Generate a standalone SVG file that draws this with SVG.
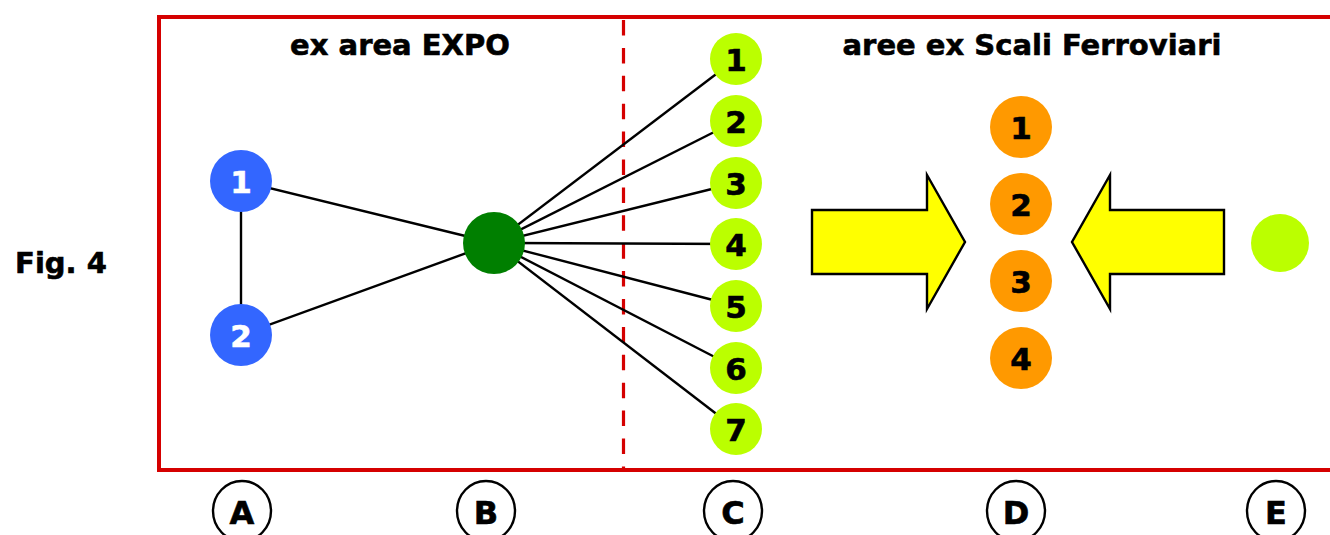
<svg xmlns="http://www.w3.org/2000/svg" width="1330" height="535" viewBox="0 0 1330 535">
  <style>
    text { font-family: "DejaVu Sans", Verdana, sans-serif; font-weight: bold; text-anchor: middle; }
    .title { font-size: 29px; fill: #000; stroke: #000; stroke-width: 0.6; }
    .num { font-size: 31px; fill: #000; stroke: #000; stroke-width: 0.6; }
    .numw { font-size: 31px; fill: #fff; stroke: #fff; stroke-width: 0.6; }
    .letter { font-size: 32px; fill: #000; stroke: #000; stroke-width: 0.6; }
    .edge { stroke: #000; stroke-width: 2.4; fill: none; }
    .blue { fill: #3366ff; }
    .lime { fill: #bbff00; }
    .orange { fill: #ff9900; }
    .arrow { fill: #ffff00; stroke: #000; stroke-width: 2.4; stroke-linejoin: miter; }
    .tag { fill: none; stroke: #000; stroke-width: 2.4; }
  </style>

  <rect width="1330" height="535" fill="#ffffff"/>

  <!-- frame and divider -->
  <rect x="159" y="17" width="1190" height="453" fill="none" stroke="#d50000" stroke-width="4"/>
  <line x1="623.5" y1="20" x2="623.5" y2="470" stroke="#d50000" stroke-width="3.2" stroke-dasharray="15.5 12.4"/>

  <text class="title" x="400" y="55">ex area EXPO</text>
  <text class="title" x="1032" y="55">aree ex Scali Ferroviari</text>
  <text class="title" x="61" y="273">Fig. 4</text>

  <!-- connectors -->
  <g id="connectors">
    <line class="edge" x1="241" y1="181" x2="241" y2="335"/>
    <line class="edge" x1="241" y1="181" x2="494" y2="243"/>
    <line class="edge" x1="241" y1="335" x2="494" y2="243"/>
    <line class="edge" x1="494" y1="243" x2="736" y2="59"/>
    <line class="edge" x1="494" y1="243" x2="736" y2="121"/>
    <line class="edge" x1="494" y1="243" x2="736" y2="183"/>
    <line class="edge" x1="494" y1="243" x2="736" y2="244"/>
    <line class="edge" x1="494" y1="243" x2="736" y2="306"/>
    <line class="edge" x1="494" y1="243" x2="736" y2="368"/>
    <line class="edge" x1="494" y1="243" x2="736" y2="429"/>
  </g>

  <!-- column A -->
  <g id="a1"><circle class="blue" cx="241" cy="181" r="31"/><text class="numw" x="241" y="193">1</text></g>
  <g id="a2"><circle class="blue" cx="241" cy="335" r="31"/><text class="numw" x="241" y="347">2</text></g>

  <!-- column B -->
  <g id="b"><circle cx="494" cy="243" r="31" fill="#007f00"/></g>

  <!-- column C -->
  <g id="c1"><circle class="lime" cx="736" cy="59" r="26"/><text class="num" x="736" y="71">1</text></g>
  <g id="c2"><circle class="lime" cx="736" cy="121" r="26"/><text class="num" x="736" y="133">2</text></g>
  <g id="c3"><circle class="lime" cx="736" cy="183" r="26"/><text class="num" x="736" y="195">3</text></g>
  <g id="c4"><circle class="lime" cx="736" cy="244" r="26"/><text class="num" x="736" y="256">4</text></g>
  <g id="c5"><circle class="lime" cx="736" cy="306" r="26"/><text class="num" x="736" y="318">5</text></g>
  <g id="c6"><circle class="lime" cx="736" cy="368" r="26"/><text class="num" x="736" y="380">6</text></g>
  <g id="c7"><circle class="lime" cx="736" cy="429" r="26"/><text class="num" x="736" y="441">7</text></g>

  <!-- column D -->
  <g id="arrow-left"><polygon class="arrow" points="812,210 927,210 927,175 965,242 927,309 927,274 812,274"/></g>
  <g id="arrow-right"><polygon class="arrow" points="1224,210 1110,210 1110,175 1072,242 1110,309 1110,274 1224,274"/></g>
  <g id="d1"><circle class="orange" cx="1021" cy="127" r="31"/><text class="num" x="1021" y="139">1</text></g>
  <g id="d2"><circle class="orange" cx="1021" cy="204" r="31"/><text class="num" x="1021" y="216">2</text></g>
  <g id="d3"><circle class="orange" cx="1021" cy="281" r="31"/><text class="num" x="1021" y="293">3</text></g>
  <g id="d4"><circle class="orange" cx="1021" cy="358" r="31"/><text class="num" x="1021" y="370">4</text></g>

  <!-- column E -->
  <g id="e"><circle class="lime" cx="1280" cy="243" r="29"/></g>

  <!-- column tags -->
  <g id="tag-a"><ellipse class="tag" cx="242" cy="511" rx="29" ry="30"/><text class="letter" x="242" y="524">A</text></g>
  <g id="tag-b"><ellipse class="tag" cx="486" cy="511" rx="29" ry="30"/><text class="letter" x="486" y="524">B</text></g>
  <g id="tag-c"><ellipse class="tag" cx="733" cy="511" rx="29" ry="30"/><text class="letter" x="733" y="524">C</text></g>
  <g id="tag-d"><ellipse class="tag" cx="1016" cy="511" rx="29" ry="30"/><text class="letter" x="1016" y="524">D</text></g>
  <g id="tag-e"><ellipse class="tag" cx="1276" cy="511" rx="29" ry="30"/><text class="letter" x="1276" y="524">E</text></g>
</svg>
